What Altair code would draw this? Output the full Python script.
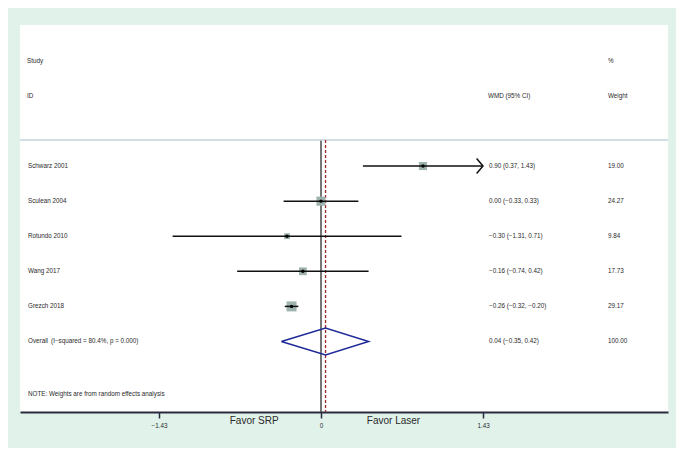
import altair as alt
import pandas as pd

# ---- data ----
studies = ["Schwarz 2001", "Sculean 2004", "Rotundo 2010", "Wang 2017", "Grezch 2018"]
est = [0.90, 0.00, -0.30, -0.16, -0.26]
lo = [0.37, -0.33, -1.31, -0.74, -0.32]
hi = [1.43, 0.33, 0.71, 0.42, -0.20]
weights = [19.00, 24.27, 9.84, 17.73, 29.17]
arrow_right = [True, False, False, False, False]

overall_label = "Overall\u2002(I\u2212squared = 80.4%, p = 0.000)"
overall_est, overall_lo, overall_hi = 0.04, -0.35, 0.42
overall_weight = 100.00
note_text = "NOTE: Weights are from random effects analysis"
tick_values = [-1.43, 0, 1.43]
favor_left, favor_right = "Favor SRP", "Favor Laser"

# ---- tables ----
def fmt(v):
    return f"{v:.2f}".replace("-", "\u2212")

rows = list(range(len(studies)))
df = pd.DataFrame({
    "row": rows, "study": studies, "est": est, "lo": lo, "hi": hi,
    "w": weights, "arrow": arrow_right,
})
df["ci"] = [f"{fmt(e)} ({fmt(l)}, {fmt(h)})" for e, l, h in zip(est, lo, hi)]
df["wt"] = [f"{w:.2f}" for w in weights]

ov_row = len(studies)
note_row = ov_row + 1.5
text_df = pd.concat([
    df[["row", "study", "ci", "wt"]],
    pd.DataFrame({"row": [ov_row], "study": [overall_label],
                  "ci": [f"{fmt(overall_est)} ({fmt(overall_lo)}, {fmt(overall_hi)})"],
                  "wt": [f"{overall_weight:.2f}"]}),
    pd.DataFrame({"row": [note_row], "study": [note_text], "ci": [""], "wt": [""]}),
], ignore_index=True)

header_df = pd.DataFrame({
    "row": [-3, -2, -2, -3, -2],
    "txt": ["Study", "ID", "WMD (95% CI)", "%", "Weight"],
    "col": ["a", "a", "b", "c", "c"],
})

dh = 0.385
diamond_df = pd.DataFrame({
    "x": [overall_lo, overall_est, overall_hi, overall_est, overall_lo],
    "y": [ov_row, ov_row - dh, ov_row, ov_row + dh, ov_row],
    "o": [0, 1, 2, 3, 4],
})

sep_y = -0.74
y_bottom = 7.01
ref_df = pd.DataFrame({"x": [0.0], "y": [sep_y], "y2": [y_bottom]})
pool_df = pd.DataFrame({"x": [overall_est], "y": [sep_y], "y2": [y_bottom]})

W, H = 648, 387
xs = alt.Scale(domain=[-2.657, 3.063], nice=False, zero=False)
ys = alt.Scale(domain=[-4.02, y_bottom], nice=False, zero=False, reverse=True)
FONT = "Liberation Sans"
TXT = "#2a2a2a"
FS = 6.3

xaxis = alt.Axis(values=tick_values, title=None, grid=False,
                 labelExpr="datum.value == 0 ? '0' : replace(format(datum.value, '.2f'), '-', '\u2212')",
                 labelFontSize=FS, labelFont=FONT, labelColor=TXT, labelPadding=4,
                 tickSize=6, tickColor="#2b2b3f", tickWidth=1.5,
                 domainColor="#2b2b3f", domainWidth=2)

base = alt.Chart(df)

zero_line = alt.Chart(ref_df).mark_rule(color="#4a4a4a", strokeWidth=1.5).encode(
    x=alt.X("x:Q", scale=xs, axis=xaxis), y=alt.Y("y:Q", scale=ys, axis=None), y2="y2:Q")
pool_line = alt.Chart(pool_df).mark_rule(color="#a02828", strokeWidth=1.3,
                                         strokeDash=[3, 2]).encode(
    x=alt.X("x:Q"), y=alt.Y("y:Q"), y2="y2:Q")

sep = alt.Chart(pd.DataFrame({"y": [sep_y]})).mark_rule(
    color="#c5d3dc", strokeWidth=1.5).encode(
    y=alt.Y("y:Q"), x=alt.value(0), x2=alt.value(W))

squares = base.mark_square(color="#9fb3ae", opacity=1).encode(
    x=alt.X("est:Q"), y=alt.Y("row:Q"),
    size=alt.Size("w:Q", scale=alt.Scale(domain=[0, 29.17], range=[0, 100]), legend=None))

ci = base.mark_rule(color="#111111", strokeWidth=1.5).encode(
    x=alt.X("lo:Q"), x2="hi:Q", y=alt.Y("row:Q"))

dots = base.mark_point(filled=True, color="#000000", size=12, opacity=1).encode(
    x=alt.X("est:Q"), y=alt.Y("row:Q"))

arrows = base.transform_filter("datum.arrow").mark_point(
    shape="M -0.85 -1 L 0 0 L -0.85 1", filled=False, color="#111111",
    strokeWidth=1.5, size=225, opacity=1).encode(
    x=alt.X("hi:Q"), y=alt.Y("row:Q"))

diamond = alt.Chart(diamond_df).mark_line(color="#1f2a99", strokeWidth=1.5).encode(
    x=alt.X("x:Q"), y=alt.Y("y:Q"), order="o:Q")

tstyle = dict(fontSize=FS, font=FONT, color=TXT, baseline="middle", align="left")
lab_txt = alt.Chart(text_df).mark_text(**tstyle).encode(
    y=alt.Y("row:Q"), x=alt.value(8), text="study:N")
ci_txt = alt.Chart(text_df).mark_text(**tstyle).encode(
    y=alt.Y("row:Q"), x=alt.value(469), text="ci:N")
wt_txt = alt.Chart(text_df).mark_text(**tstyle).encode(
    y=alt.Y("row:Q"), x=alt.value(588), text="wt:N")

hdr_layers = []
for col, px in [("a", 7), ("b", 468), ("c", 588)]:
    hdr_layers.append(
        alt.Chart(header_df).transform_filter(f"datum.col == '{col}'").mark_text(**tstyle).encode(
            y=alt.Y("row:Q"), x=alt.value(px), text="txt:N"))

favor = alt.Chart(pd.DataFrame({"t": [favor_left, favor_right], "p": [-0.59, 0.64]})).mark_text(
    fontSize=10, font=FONT, color=TXT, baseline="middle", align="center").encode(
    x=alt.X("p:Q"), y=alt.value(H + 9), text="t:N")

chart = alt.layer(
    zero_line, sep, pool_line, squares, ci, dots, arrows, diamond,
    lab_txt, ci_txt, wt_txt, *hdr_layers, favor,
).properties(
    width=W, height=H,
    background="#e1f2eb",
    padding={"left": 12, "top": 17, "right": 8, "bottom": 36},
    autosize=alt.AutoSizeParams(type="none"),
).configure_view(fill="white", strokeWidth=0)

chart.save("out.html", embed_options={"renderer": "svg", "actions": False})
